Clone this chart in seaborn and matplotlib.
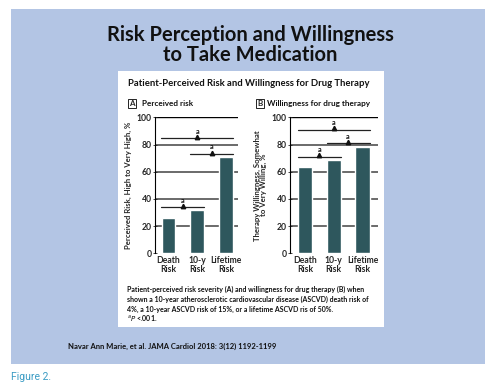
import matplotlib
matplotlib.use("Agg")
import matplotlib.pyplot as plt
from matplotlib.patches import Rectangle
import seaborn as sns
import pandas as pd

# data
categories = ["Death\nRisk", "10-y\nRisk", "Lifetime\nRisk"]
perceived_risk = [26, 32, 71]
willingness = [63.5, 68.5, 78]
yticks = [0, 20, 40, 60, 80, 100]

# significance brackets: (from bar, to bar, height)
sig_a = [(0, 1, 34), (0, 2, 84.5), (1, 2, 73)]
sig_b = [(0, 1, 71), (0, 2, 91), (1, 2, 81)]

W, H = 495, 390
BLUE = "#b3c5e4"
BAR = "#2e575d"
FONT = "Lato"

sns.set_theme(style="white")
plt.rcParams["font.family"] = [FONT, "DejaVu Sans"]

fig = plt.figure(figsize=(W / 100, H / 100), dpi=100)
fig.patch.set_facecolor("white")


def fx(x):
    return x / W


def fy(y):
    return 1 - y / H


def box(x0, y0, x1, y1, **kw):
    fig.patches.append(Rectangle((fx(x0), fy(y1)), fx(x1) - fx(x0), fy(y0) - fy(y1),
                                 transform=fig.transFigure, zorder=-5, **kw))


box(11, 9, 485, 364, facecolor=BLUE, edgecolor="none")
box(118, 71, 384, 327, facecolor="white", edgecolor="none")

fig.text(fx(250), fy(45), "Risk Perception and Willingness\nto Take Medication",
         ha="center", va="center", fontsize=14.5, fontweight="bold",
         linespacing=1.0, color="#111")
fig.text(fx(128), fy(83), "Patient-Perceived Risk and Willingness for Drug Therapy",
         ha="left", va="center", fontsize=6.8, fontweight="bold", color="#111")


def panel(rect, values, sigs, xlim, width, letter, title, ylabel, lx, tx):
    ax = fig.add_axes(rect, zorder=2)
    df = pd.DataFrame({"cat": categories, "val": values})
    for y in yticks[1:]:
        ax.axhline(y, color="black" if y == 100 else "#6a6a6a",
                   lw=1.0 if y == 100 else 1.4, zorder=0)
    sns.barplot(data=df, x="cat", y="val", color=BAR, width=width,
                saturation=1, ax=ax, zorder=2)
    for a, b, h in sigs:
        ax.plot([a - 0.25, b + 0.25], [h, h], color="#222", lw=0.9, zorder=3)
        mid = (a + b) / 2
        ax.plot(mid, h + 1.0, marker="^", color="#111", ms=3.2, zorder=4)
        ax.text(mid, h + 2.6, "a", ha="center", va="bottom", fontsize=5.2,
                fontweight="bold", color="#111")
    ax.set_xlim(*xlim)
    ax.set_ylim(0, 100)
    ax.set_yticks(yticks)
    ax.set_facecolor("none")
    for s in ["top", "right", "bottom"]:
        ax.spines[s].set_visible(False)
    ax.spines["left"].set_color("black")
    ax.spines["left"].set_linewidth(0.8)
    ax.tick_params(axis="y", direction="inout", length=3, width=0.6,
                   labelsize=6.2, pad=1, left=True)
    ax.tick_params(axis="x", length=0, labelsize=6.2, pad=2)
    for lab in ax.get_xticklabels() + ax.get_yticklabels():
        lab.set_fontweight("bold")
        lab.set_linespacing(1.0)
    ax.set_xlabel("")
    ax.set_ylabel(ylabel, fontsize=5.6, fontweight="bold", labelpad=3,
                  linespacing=0.95)
    # panel label
    fig.text(fx(lx), fy(103.5), letter, ha="center", va="center", fontsize=5.8,
             fontweight="bold",
             bbox=dict(boxstyle="square,pad=0.15", fc="white", ec="black", lw=0.6))
    fig.text(fx(tx), fy(103.5), title, ha="left", va="center", fontsize=5.9,
             fontweight="bold", color="#111")
    return ax


panel([fx(155), fy(253.3), fx(238) - fx(155), fy(117.3) - fy(253.3)],
      perceived_risk, sig_a, (-0.47, 2.42), 0.47, "A", "Perceived risk",
      "Perceived Risk, High to Very High, %", 131.8, 142)
panel([fx(290), fy(253.3), fx(378) - fx(290), fy(117.3) - fy(253.3)],
      willingness, sig_b, (-0.52, 2.54), 0.49, "B", "Willingness for drug therapy",
      "Therapy Willingness, Somewhat\nto Very Willing, %", 260.3, 267)

caption = ("Patient-perceived risk severity (A) and willingness for drug therapy (B) when\n"
           "shown a 10-year atherosclerotic cardiovascular disease (ASCVD) death risk of\n"
           "4%, a 10-year ASCVD risk of 15%, or a lifetime ASCVD ris of 50%.")
fig.text(fx(127), fy(285.5), caption, ha="left", va="top", fontsize=5.0,
         fontweight="bold", linespacing=1.45, color="#111")
fig.text(fx(127), fy(318), "$^{a}$$\\it{P}$ <.001.", ha="left", va="center",
         fontsize=5.0, fontweight="bold", color="#111")

fig.text(fx(68), fy(346), "Navar Ann Marie, et al. JAMA Cardiol 2018: 3(12) 1192-1199",
         ha="left", va="center", fontsize=5.5, fontweight="bold", color="#111")
fig.text(fx(11), fy(377), "Figure 2.", ha="left", va="center", fontsize=7.5,
         color="#3b9cc4", family=["Roboto", "DejaVu Sans"])

fig.savefig("out.png", dpi=100, facecolor=fig.get_facecolor())
